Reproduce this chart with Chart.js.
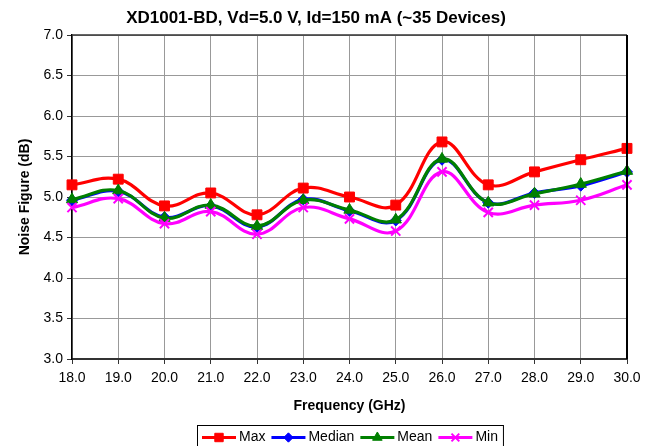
<!DOCTYPE html>
<html>
<head>
<meta charset="utf-8">
<script src="https://cdn.jsdelivr.net/npm/chart.js@4/dist/chart.umd.min.js"></script>
<style>
html,body{margin:0;padding:0;background:#fff;}
#wrap{width:655px;height:446px;position:relative;}
</style>
</head>
<body>
<div id="wrap"><canvas id="c" width="655" height="446"></canvas></div>
<script>
const chartTitle = 'XD1001-BD, Vd=5.0 V, Id=150 mA (~35 Devices)';
const xAxisTitle = 'Frequency (GHz)';
const yAxisTitle = 'Noise Figure (dB)';
const frequencies = ['18.0','19.0','20.0','21.0','22.0','23.0','24.0','25.0','26.0','27.0','28.0','29.0','30.0'];
const maxNF    = [5.15, 5.22, 4.89, 5.05, 4.78, 5.11, 5.00, 4.90, 5.68, 5.15, 5.31, 5.46, 5.60];
const medianNF = [4.96, 5.07, 4.75, 4.89, 4.63, 4.97, 4.83, 4.71, 5.46, 4.93, 5.05, 5.14, 5.31];
const meanNF   = [4.97, 5.08, 4.74, 4.90, 4.64, 4.96, 4.84, 4.72, 5.47, 4.93, 5.04, 5.16, 5.32];
const minNF    = [4.87, 4.98, 4.67, 4.82, 4.54, 4.87, 4.73, 4.58, 5.31, 4.81, 4.90, 4.96, 5.15];
const seriesNames = ['Max','Median','Mean','Min'];
const yMin = 3.0, yMax = 7.0, yStep = 0.5;

const FONT = "'Liberation Sans', Arial, sans-serif";

function ds(label, data, color, style, radius, order) {
  return {
    label, data, order,
    borderColor: color, backgroundColor: color,
    pointBackgroundColor: color, pointBorderColor: color,
    borderWidth: 3.2, pointStyle: style, pointRadius: radius,
    pointBorderWidth: style === 'crossRot' ? 2 : 1,
    tension: 0.4, fill: false
  };
}

const datasets = [
  ds(seriesNames[0], maxNF, '#FF0000', 'rect', 7, 4),
  ds(seriesNames[1], medianNF, '#0000FF', 'rectRot', 5.5, 3),
  ds(seriesNames[2], meanNF, '#008000', 'triangle', 6.5, 2),
  ds(seriesNames[3], minNF, '#FF00FF', 'crossRot', 6.5, 1)
];

const decor = {
  id: 'decor',
  afterDraw(chart) {
    const ctx = chart.ctx, a = chart.chartArea;
    ctx.save();
    ctx.strokeStyle = '#333';
    ctx.lineWidth = 1.5;
    ctx.beginPath();
    ctx.moveTo(a.left, a.top); ctx.lineTo(a.right, a.top);
    ctx.stroke();
    ctx.strokeStyle = '#000';
    ctx.lineWidth = 2;
    ctx.beginPath();
    ctx.moveTo(a.right, a.top); ctx.lineTo(a.right, a.bottom);
    ctx.stroke();
    ctx.fillStyle = '#000';
    ctx.font = 'bold 17px ' + FONT;
    ctx.textAlign = 'center';
    ctx.textBaseline = 'middle';
    ctx.fillText(chartTitle, 316, 18);
    ctx.font = '14px ' + FONT;
    ctx.textAlign = 'left';
    const lineLen = 34, gapT = 3, gapI = 6;
    const sets = chart.data.datasets;
    let total = 0;
    const widths = sets.map(d => ctx.measureText(d.label).width);
    widths.forEach(w => total += lineLen + gapT + w + gapI);
    total -= gapI;
    const boxL = 197, boxT = 425;
    let x = boxL + 5;
    const y = 437.5;
    ctx.strokeStyle = '#000';
    ctx.lineWidth = 1;
    ctx.strokeRect(boxL + 0.5, boxT + 0.5, total + 10, 30);
    sets.forEach((d, i) => {
      ctx.strokeStyle = d.borderColor;
      ctx.lineWidth = 3;
      ctx.beginPath();
      ctx.moveTo(x, y); ctx.lineTo(x + lineLen, y);
      ctx.stroke();
      ctx.fillStyle = d.pointBackgroundColor;
      ctx.strokeStyle = d.pointBorderColor;
      ctx.lineWidth = d.pointBorderWidth;
      Chart.helpers.drawPoint(ctx, {
        pointStyle: d.pointStyle, radius: d.pointRadius * 0.85, borderWidth: d.pointBorderWidth
      }, x + lineLen / 2, y);
      ctx.fillStyle = '#000';
      ctx.fillText(d.label, x + lineLen + gapT, y);
      x += lineLen + gapT + widths[i] + gapI;
    });
    ctx.restore();
  }
};

new Chart(document.getElementById('c'), {
  type: 'line',
  data: { labels: frequencies, datasets },
  plugins: [decor],
  options: {
    responsive: false,
    animation: false,
    devicePixelRatio: 1,
    layout: { padding: { top: 35, right: 28, bottom: 31, left: 0 } },
    plugins: { legend: { display: false }, title: { display: false }, tooltip: { enabled: false } },
    scales: {
      x: {
        type: 'category',
        offset: false,
        afterFit(s) { s.height = 56; },
        grid: { color: '#999', lineWidth: 1, tickLength: 5, tickColor: '#333', drawOnChartArea: true },
        border: { color: '#333', width: 2 },
        ticks: { color: '#000', font: { family: FONT, size: 14 }, padding: 6, maxRotation: 0, autoSkip: false },
        title: { display: true, text: xAxisTitle, color: '#000', font: { family: FONT, size: 14, weight: 'bold' }, padding: { top: 0, bottom: 0 } }
      },
      y: {
        min: yMin, max: yMax,
        afterFit(s) { s.width = 72; },
        grid: { color: '#999', lineWidth: 1, tickLength: 5, tickColor: '#333' },
        border: { color: '#000', width: 1.5 },
        ticks: { stepSize: yStep, color: '#000', font: { family: FONT, size: 14 }, padding: 4,
                 callback: v => Number(v).toFixed(1) },
        title: { display: true, text: yAxisTitle, color: '#000', font: { family: FONT, size: 14, weight: 'bold' }, padding: { top: 17, bottom: 0 } }
      }
    }
  }
});
</script>
</body>
</html>
